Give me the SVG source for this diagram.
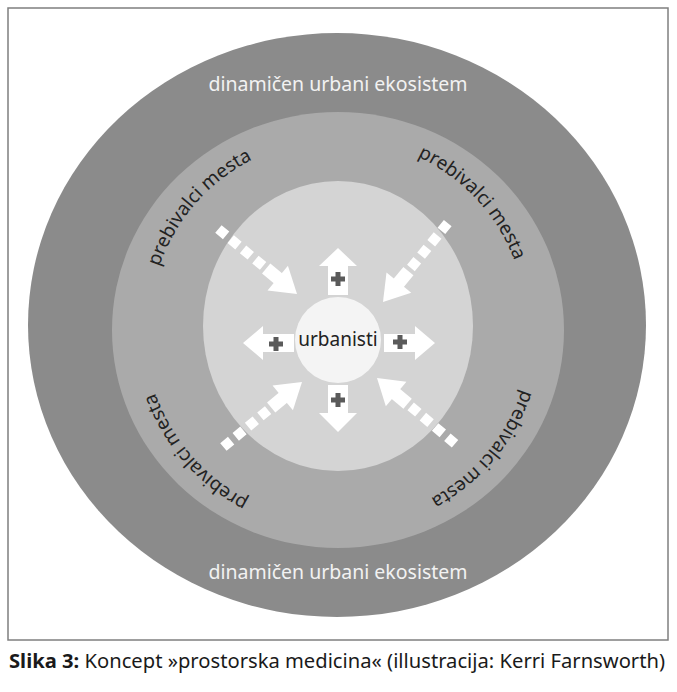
<svg xmlns="http://www.w3.org/2000/svg" width="677" height="692" viewBox="0 0 677 692">
<defs>
<style>
.ring-label{font-family:"Noto Sans","Open Sans",sans-serif;font-size:19.5px;fill:#f2f2f2;text-anchor:middle}
.arc-label{font-family:"Noto Sans","Open Sans",sans-serif;font-size:19px;fill:#222222}
.center-label{font-family:"Noto Sans","Open Sans",sans-serif;font-size:19px;fill:#222222;text-anchor:middle}
.block{fill:#ffffff}
.plus{stroke:#5a5a5a;stroke-width:5;fill:none}
.dots{stroke:#ffffff;stroke-width:10;stroke-dasharray:10 6;fill:none}
.caption{font-family:"Noto Sans","Open Sans",sans-serif;font-size:20px;fill:#1a1a1a}
</style>
<path id="arcUL" d="M151.3,357.6 A189,189 0 0,1 341.3,139"/>
<path id="arcUR" d="M328.1,139.3 A189,189 0 0,1 525.6,351"/>
<path id="arcLR" d="M529.1,294.3 A194,194 0 0,1 338,522"/>
<path id="arcLL" d="M341.4,522 A194,194 0 0,1 146.4,297.7"/>
<g id="diag">
<line class="dots" x1="-102" y1="0" x2="-40" y2="0"/>
<rect class="block" x="-40" y="-6.5" width="18" height="13"/>
<polygon class="block" points="0,0 -25,-16 -25,16"/>
</g>
</defs>
<rect x="8" y="8" width="660" height="632" fill="#ffffff" stroke="#7f7f7f" stroke-width="1.5"/>
<g id="ecosystem">
<ellipse cx="337" cy="325" rx="309" ry="292" fill="#8b8b8b"/>
<text class="ring-label" x="338" y="91">dinamičen urbani ekosistem</text>
<text class="ring-label" x="338" y="579">dinamičen urbani ekosistem</text>
</g>
<g id="residents">
<ellipse cx="338" cy="330" rx="226" ry="218" fill="#aaaaaa"/>
<text class="arc-label"><textPath href="#arcUL" startOffset="50%" text-anchor="middle">prebivalci mesta</textPath></text>
<text class="arc-label"><textPath href="#arcUR" startOffset="50%" text-anchor="middle">prebivalci mesta</textPath></text>
<text class="arc-label"><textPath href="#arcLR" startOffset="50%" text-anchor="middle">prebivalci mesta</textPath></text>
<text class="arc-label"><textPath href="#arcLL" startOffset="50%" text-anchor="middle">prebivalci mesta</textPath></text>
</g>
<g id="inner">
<ellipse cx="338" cy="326" rx="135" ry="145" fill="#d4d4d4"/>
</g>
<g id="connectors">
<use href="#diag" transform="translate(297,294) rotate(39.6)"/>
<use href="#diag" transform="translate(383,302) rotate(129.4)"/>
<use href="#diag" transform="translate(302,382) rotate(-39.6)"/>
<use href="#diag" transform="translate(377,378) rotate(-139.9)"/>
<polygon class="block" points="338,248 357,266 348,266 348,295 328,295 328,266 319,266"/>
<polygon class="block" points="328,385 348,385 348,413 357,413 338,432 319,413 328,413"/>
<polygon class="block" points="243,343 263,326 263,334 294,334 294,352 263,352 263,360"/>
<polygon class="block" points="384,334 415,334 415,326 435,343 415,360 415,352 384,352"/>
<path class="plus" d="M331,279 H345 M338,272 V286"/>
<path class="plus" d="M331,400 H345 M338,393 V407"/>
<path class="plus" d="M269,344 H283 M276,337 V351"/>
<path class="plus" d="M393,342 H407 M400,335 V349"/>
</g>
<g id="urbanisti">
<circle cx="338" cy="340" r="43" fill="#f4f4f4"/>
<text class="center-label" x="338" y="346">urbanisti</text>
</g>
<text class="caption" x="9" y="668" textLength="656" lengthAdjust="spacingAndGlyphs"><tspan font-weight="bold">Slika 3:</tspan> Koncept »prostorska medicina« (illustracija: Kerri Farnsworth)</text>
</svg>
